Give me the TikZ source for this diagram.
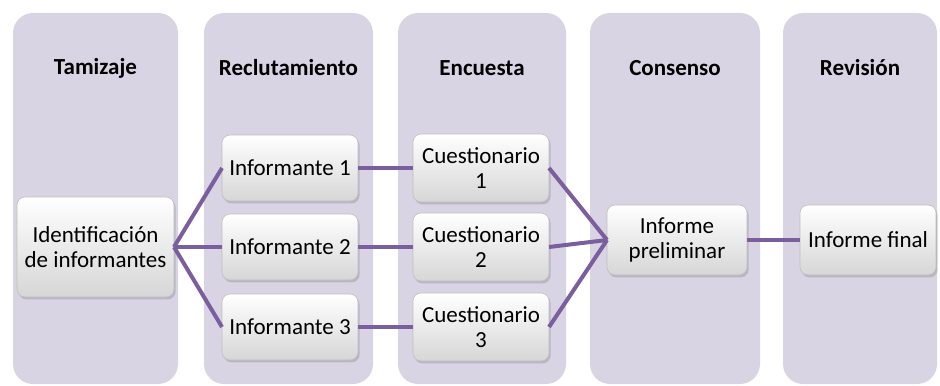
\documentclass[tikz,border=0pt]{standalone}
\usepackage{fontspec}
\setmainfont{Carlito}
\usetikzlibrary{shadows}
\definecolor{lanecol}{HTML}{D9D4E4}
\definecolor{linkcol}{HTML}{7B5E9E}
\begin{document}
\begin{tikzpicture}[x=0.5pt,y=-0.5pt,inner sep=0pt,outer sep=0pt,
lane/.style={fill=lanecol,draw=none,rounded corners=10pt},
header/.style={font=\fontsize{11.5pt}{12.5pt}\selectfont\bfseries},
stepbox/.style={draw=black!25,line width=0.3pt,rounded corners=4pt,align=center,
  top color=white,bottom color=black!16,
  drop shadow={shadow xshift=0.8pt,shadow yshift=-1.2pt,opacity=0.35},
  font=\fontsize{11.5pt}{12.5pt}\selectfont,minimum width=68pt,minimum height=33pt},
link/.style={draw=linkcol,line width=2pt}]
\useasboundingbox (0,0) rectangle (940,385);
% columns
\fill[lane] (13,13) rectangle (178,384);
\fill[lane] (204,13) rectangle (373,384);
\fill[lane] (398,13) rectangle (566,384);
\fill[lane] (590,13) rectangle (760,384);
\fill[lane] (783,13) rectangle (937,384);
\draw (95.5,68) node[header] {Tamizaje};
\draw (288.5,68) node[header] {Reclutamiento};
\draw (482,68) node[header] {Encuesta};
\draw (675,68) node[header] {Consenso};
\draw (860,68) node[header] {Revisión};

\draw (95.5,247) node[stepbox,minimum width=78.5pt,minimum height=50pt] (ident) {Identificación\\de informantes};
\draw (290,168) node[stepbox] (inf1) {Informante 1};
\draw (290,247) node[stepbox] (inf2) {Informante 2};
\draw (290,327) node[stepbox] (inf3) {Informante 3};
\draw (481,168) node[stepbox,minimum height=34pt] (cue1) {Cuestionario\\1};
\draw (481,247) node[stepbox,minimum height=34pt] (cue2) {Cuestionario\\2};
\draw (481,327) node[stepbox,minimum height=34pt] (cue3) {Cuestionario\\3};
\draw (677,240) node[stepbox,minimum width=70pt,minimum height=35pt] (prel) {Informe\\preliminar};
\draw (868,240) node[stepbox,minimum height=35pt] (final) {Informe final};

\draw[link] (ident.east) -- (inf1.west);
\draw[link] (ident.east) -- (inf2.west);
\draw[link] (ident.east) -- (inf3.west);
\draw[link] (inf1) -- (cue1);
\draw[link] (inf2) -- (cue2);
\draw[link] (inf3) -- (cue3);
\draw[link] (cue1.east) -- (prel.west);
\draw[link] (cue2.east) -- (prel.west);
\draw[link] (cue3.east) -- (prel.west);
\draw[link] (prel) -- (final);
\end{tikzpicture}
\end{document}
